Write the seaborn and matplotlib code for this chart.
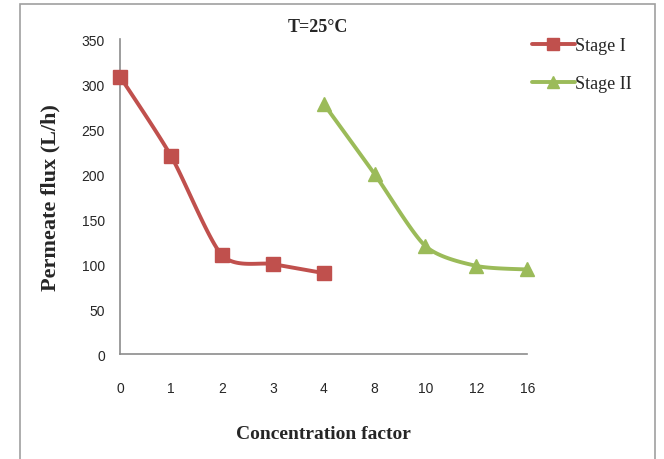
import numpy as np
import pandas as pd
import matplotlib
matplotlib.use("Agg")
import matplotlib.pyplot as plt
import seaborn as sns

# Concentration factor categories (evenly spaced on the axis)
categories = ["0", "1", "2", "3", "4", "8", "10", "12", "16"]
stage1_pos = [0, 1, 2, 3, 4]
stage1_flux = [308, 220, 110, 100, 90]
stage2_pos = [4, 5, 6, 7, 8]
stage2_flux = [278, 200, 120, 98, 94]
y_ticks = [0, 50, 100, 150, 200, 250, 300, 350]

red = "#C0504D"
green = "#9BBB59"


def smooth(xs, ys, n=30, k=1 / 8.0):
    """Bezier smoothing through the points (spreadsheet-style smoothed line)."""
    p = np.column_stack([xs, ys]).astype(float)
    out = []
    for i in range(len(p) - 1):
        p0 = p[i - 1] if i > 0 else p[i]
        p1, p2 = p[i], p[i + 1]
        p3 = p[i + 2] if i + 2 < len(p) else p[i + 1]
        c1 = p1 + (p2 - p0) * k
        c2 = p2 - (p3 - p1) * k
        t = np.linspace(0, 1, n)[:, None]
        seg = ((1 - t) ** 3) * p1 + 3 * ((1 - t) ** 2) * t * c1 + 3 * (1 - t) * t ** 2 * c2 + t ** 3 * p2
        out.append(seg if i == 0 else seg[1:])
    s = np.vstack(out)
    return s[:, 0], s[:, 1]


sns.set_style("white")
plt.rcParams["font.family"] = ["Liberation Serif", "DejaVu Serif"]

fig = plt.figure(figsize=(6.64, 4.6), dpi=100)
ax = fig.add_axes([0.181, 0.228, 0.613, 0.685])

handles = []
for pos, flux, col, mk, ms, lab in [
    (stage1_pos, stage1_flux, red, "s", 10, "Stage I"),
    (stage2_pos, stage2_flux, green, "^", 10, "Stage II"),
]:
    sx, sy = smooth(pos, flux)
    sns.lineplot(x=sx, y=sy, ax=ax, color=col, linewidth=2.8, sort=False,
                 estimator=None, legend=False)
    ax.plot(pos, flux, linestyle="none", marker=mk, markersize=ms, color=col,
            markeredgecolor=col, clip_on=False, zorder=5)
    h, = ax.plot([], [], color=col, linewidth=2.8, marker=mk,
                 markersize=ms - 1, label=lab)
    handles.append(h)

ax.set_xlim(0, 8)
ax.set_ylim(0, 350)
ax.set_xticks(range(len(categories)))
ax.set_xticklabels(categories)
ax.set_yticks(y_ticks)

for s in ["top", "right"]:
    ax.spines[s].set_visible(False)
for s in ["left", "bottom"]:
    ax.spines[s].set_color("#8c8c8c")
    ax.spines[s].set_linewidth(1.2)

ax.tick_params(axis="both", which="major", direction="out", length=5,
               width=1.2, color="#8c8c8c", labelsize=10)
ax.tick_params(axis="x", pad=14)
ax.tick_params(axis="y", pad=6)
for t in ax.get_xticklabels() + ax.get_yticklabels():
    t.set_fontfamily(["Liberation Sans", "DejaVu Sans"])

ax.set_xlabel("Concentration factor", fontsize=14, fontweight="bold", labelpad=22)
ax.set_ylabel("Permeate flux (L/h)", fontsize=16, fontweight="bold", labelpad=15)
fig.text(0.479, 0.941, "T=25°C", ha="center", va="center", fontsize=13,
         fontweight="bold")

leg = fig.legend(handles=handles, loc="upper left",
                 bbox_to_anchor=(0.776, 0.952), frameon=False,
                 fontsize=13, handlelength=2.4, handletextpad=0.0,
                 labelspacing=1.15)

# chart border
fig.add_artist(plt.Rectangle((0.03, -0.02), 0.957, 1.01, transform=fig.transFigure,
                             fill=False, edgecolor="#a0a0a0", linewidth=1.2))

fig.savefig("out.png", dpi=100)
